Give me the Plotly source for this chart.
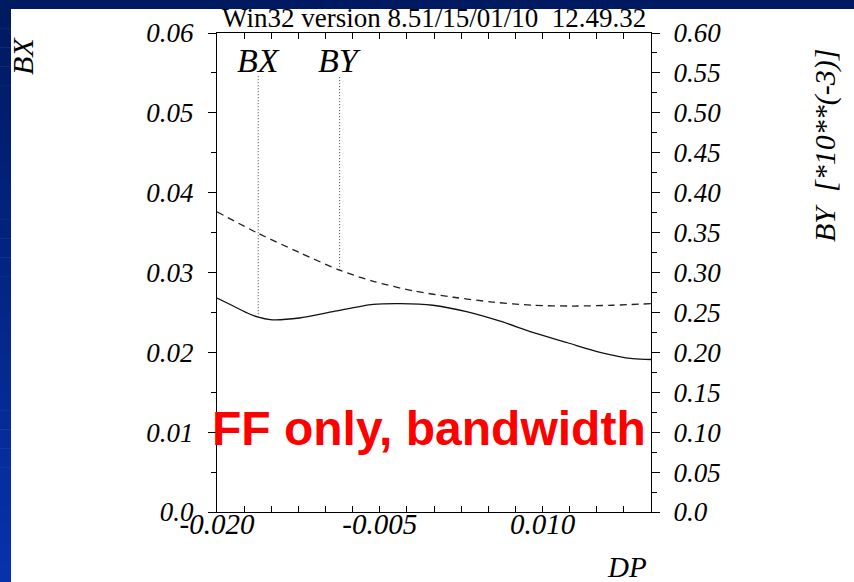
import plotly.graph_objects as go

# ---------------- data ----------------
bx_dp = [-0.0200, -0.0185, -0.0170, -0.0162, -0.0151, -0.0124, -0.0093, -0.0056,
         -0.0031, -0.0001, 0.0030, 0.0061, 0.0091, 0.0123, 0.0153, 0.0183, 0.0200]
bx = [0.0268, 0.0258, 0.0248, 0.0244, 0.0241, 0.0243, 0.0251, 0.0260,
      0.0261, 0.0259, 0.0251, 0.0239, 0.0225, 0.0212, 0.0200, 0.0192, 0.0191]

by_dp = [-0.0200, -0.0162, -0.0124, -0.0087, -0.0056, -0.0019, 0.0018, 0.0054,
         0.0091, 0.0128, 0.0165, 0.0200]
by = [0.376, 0.349, 0.325, 0.303, 0.289, 0.277, 0.269, 0.263,
      0.259, 0.258, 0.259, 0.261]

# curve label markers: DP position, value on curve, top of marker line
bx_mark_dp = -0.0162
bx_mark_y = [0.0244, 0.0546]
by_mark_dp = -0.0087
by_mark_y = [0.303, 0.547]

x_tickvals = [-0.02 + 0.0025 * i for i in range(17)]
x_labels = {-0.020: "-0.020", -0.005: "-0.005", 0.010: "0.010"}
y_tickvals = [0.0, 0.01, 0.02, 0.03, 0.04, 0.05, 0.06]
y_ticktext = ["0.0", "0.01", "0.02", "0.03", "0.04", "0.05", "0.06"]
y2_tickvals = [0.05 * i for i in range(13)]
y2_ticktext = ["0.0"] + ["%.2f" % (0.05 * i) for i in range(1, 13)]

title_text = "Win32 version 8.51/15/01/10  12.49.32"

# ---------------- geometry helpers ----------------
W, H = 854, 582
L, R, T, B = 217, 651, 33, 512


def px(xp):
    return (xp - L) / (R - L)


def py(yp):
    return (B - yp) / (B - T)


serif = "Liberation Serif"
ink = "#000000"

x_ticktext = []
for v in x_tickvals:
    lab = ""
    for k, t in x_labels.items():
        if abs(v - k) < 1e-9:
            lab = t
    x_ticktext.append(lab)

fig = go.Figure()

fig.add_trace(go.Scatter(x=bx_dp, y=bx, mode="lines", yaxis="y",
                         line=dict(color="#111111", width=1.3, shape="spline", smoothing=0.8),
                         showlegend=False, hoverinfo="skip"))
fig.add_trace(go.Scatter(x=by_dp, y=by, mode="lines", yaxis="y2",
                         line=dict(color="#222222", width=1.3, dash="7px,5px",
                                   shape="spline", smoothing=0.8),
                         showlegend=False, hoverinfo="skip"))
fig.add_trace(go.Scatter(x=[bx_mark_dp, bx_mark_dp], y=bx_mark_y, mode="lines", yaxis="y",
                         line=dict(color="#444444", width=1, dash="1px,2px"),
                         showlegend=False, hoverinfo="skip"))
fig.add_trace(go.Scatter(x=[by_mark_dp, by_mark_dp], y=by_mark_y, mode="lines", yaxis="y2",
                         line=dict(color="#444444", width=1, dash="1px,2px"),
                         showlegend=False, hoverinfo="skip"))

tickfont = dict(family=serif, size=27, style="italic", color=ink)

fig.update_layout(
    width=W, height=H,
    margin=dict(l=L, r=W - R, t=T, b=H - B, autoexpand=False),
    paper_bgcolor="white", plot_bgcolor="white",
    xaxis=dict(range=[-0.02, 0.02], tickmode="array", tickvals=x_tickvals, ticktext=x_ticktext,
               ticks="inside", ticklen=6, tickcolor=ink, tickwidth=1,
               showline=True, linecolor=ink, linewidth=1, mirror="ticks",
               showgrid=False, zeroline=False, tickfont=dict(family=serif, size=29, style="italic", color=ink),
               ticklabelstandoff=-14),
    yaxis=dict(range=[0, 0.06], tickmode="array", tickvals=y_tickvals, ticktext=y_ticktext,
               ticks="outside", ticklen=8, tickcolor=ink, tickwidth=1,
               minor=dict(tickmode="array", tickvals=[0.005, 0.015, 0.025, 0.035, 0.045, 0.055],
                          ticks="outside", ticklen=5, tickcolor=ink),
               showline=True, linecolor=ink, linewidth=1,
               showgrid=False, zeroline=False, tickfont=tickfont, ticklabelstandoff=9),
    yaxis2=dict(range=[0, 0.6], overlaying="y", side="right", tickmode="array",
                tickvals=y2_tickvals, ticktext=y2_ticktext,
                ticks="outside", ticklen=8, tickcolor=ink, tickwidth=1,
                minor=dict(tickmode="array", tickvals=[0.025 + 0.05 * i for i in range(12)],
                           ticks="outside", ticklen=5, tickcolor=ink),
                showline=True, linecolor=ink, linewidth=1,
                showgrid=False, zeroline=False, tickfont=tickfont, ticklabelstandoff=8),
)

# ---------------- frame (blue slide border) ----------------
shapes = []
shapes.append(dict(type="rect", xref="paper", yref="paper", x0=px(0), x1=px(W), y0=py(9), y1=py(0),
                   fillcolor="#001a62", line=dict(width=0), layer="above"))
n = 30
c0 = (0x00, 0x1a, 0x62)
c1 = (0x06, 0x32, 0xaa)
for i in range(n):
    t = i / (n - 1)
    col = "rgb(%d,%d,%d)" % tuple(round(a + (b - a) * t) for a, b in zip(c0, c1))
    y0p = 9 + (H - 9) * i / n
    y1p = 9 + (H - 9) * (i + 1) / n
    shapes.append(dict(type="rect", xref="paper", yref="paper", x0=px(0), x1=px(11),
                       y0=py(y1p + 0.5), y1=py(y0p), fillcolor=col, line=dict(width=0), layer="above"))
fig.update_layout(shapes=shapes)

# ---------------- texts ----------------
ann = []
ann.append(dict(text=title_text, xref="paper", yref="paper", x=px(434), y=py(18),
                xanchor="center", yanchor="middle", showarrow=False,
                font=dict(family=serif, size=27, color=ink)))
ann.append(dict(text="BX", xref="x", yref="y", x=bx_mark_dp, y=0.0565,
                xanchor="center", yanchor="middle", showarrow=False,
                font=dict(family=serif, size=34, style="italic", color=ink)))
ann.append(dict(text="BY", xref="x", yref="y", x=by_mark_dp, y=0.0565,
                xanchor="center", yanchor="middle", showarrow=False,
                font=dict(family=serif, size=34, style="italic", color=ink)))
ann.append(dict(text="BX", xref="paper", yref="paper", x=px(23), y=py(56),
                xanchor="center", yanchor="middle", showarrow=False, textangle=-90,
                font=dict(family=serif, size=30, style="italic", color=ink)))
ann.append(dict(text="BY  [*10**(-3)]", xref="paper", yref="paper", x=px(825), y=py(146),
                xanchor="center", yanchor="middle", showarrow=False, textangle=-90,
                font=dict(family=serif, size=30, style="italic", color=ink)))
ann.append(dict(text="DP", xref="paper", yref="paper", x=px(627), y=py(567),
                xanchor="center", yanchor="middle", showarrow=False,
                font=dict(family=serif, size=29, style="italic", color=ink)))
ann.append(dict(text="<b>FF only, bandwidth</b>", xref="paper", yref="paper", x=px(429), y=py(428),
                xanchor="center", yanchor="middle", showarrow=False,
                font=dict(family="Liberation Sans", size=48, color="#ff0000")))
fig.update_layout(annotations=ann)

fig.write_html("out.html", config={"displayModeBar": False},
               post_script="document.body.style.margin='0';document.body.style.overflow='hidden';")
